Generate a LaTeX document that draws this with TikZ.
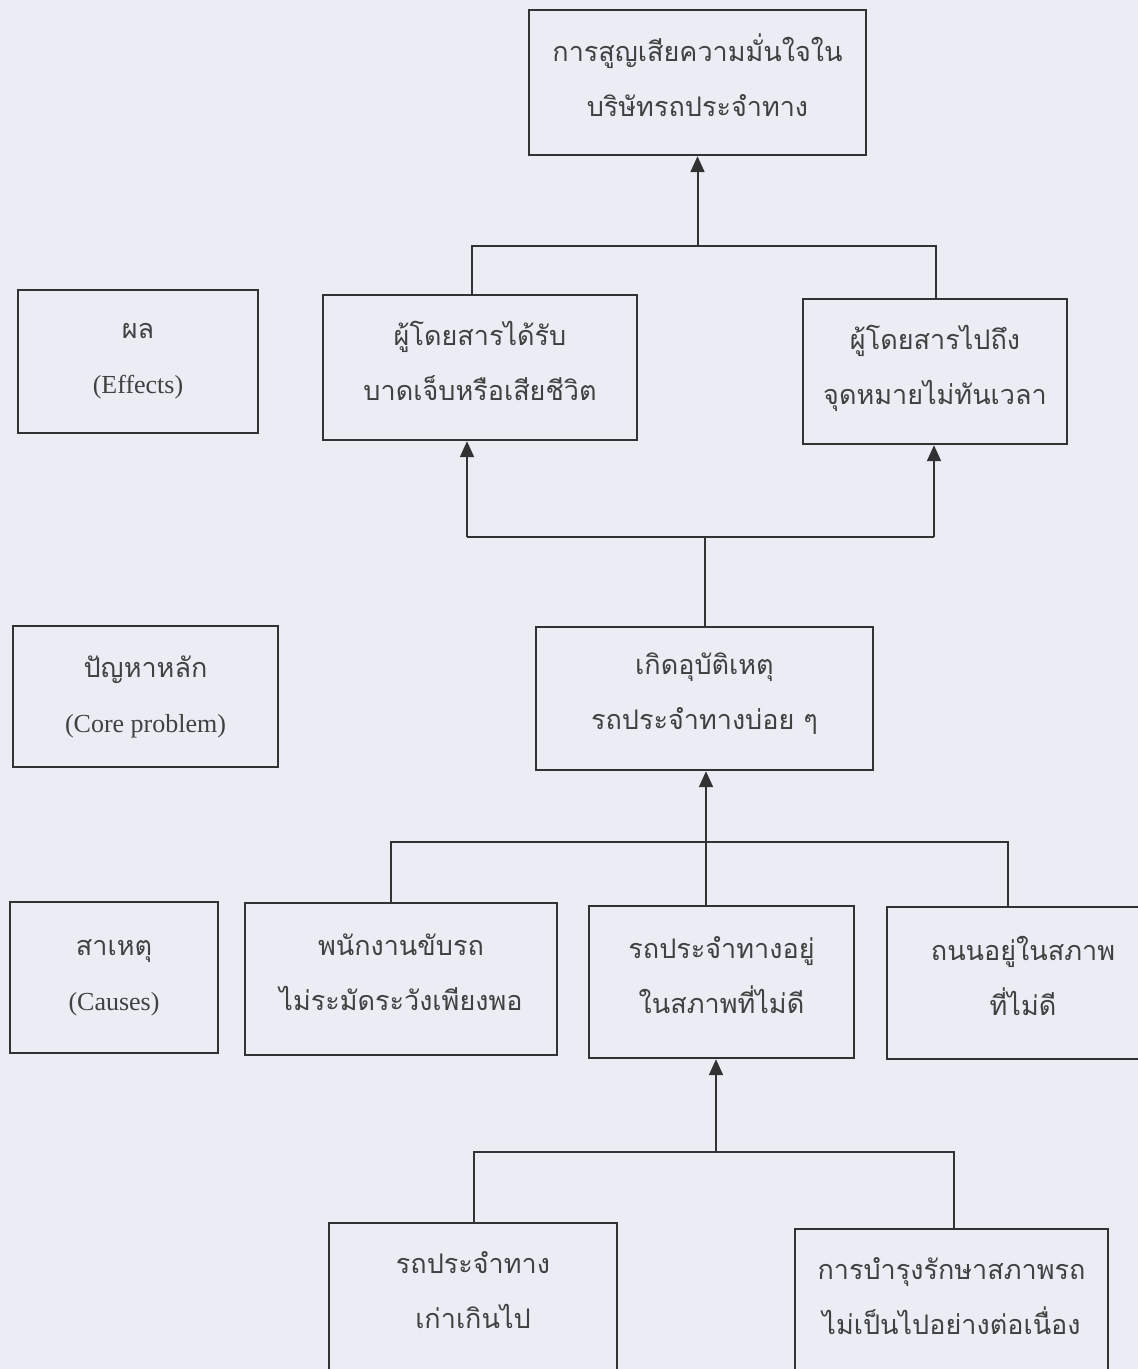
\documentclass[tikz,border=0pt]{standalone}
\usepackage{fontspec}
\setmainfont{Liberation Serif}
\newfontfamily\thaifont[Script=Thai]{Loma}
\usetikzlibrary{arrows.meta}
\definecolor{scanbg}{RGB}{234,237,243}
\definecolor{inkline}{RGB}{50,50,50}
\definecolor{inktext}{RGB}{65,65,65}
\newcommand{\eng}[1]{{\rmfamily\fontsize{13}{27.5}\selectfont #1}}

\begin{document}
\begin{tikzpicture}[x=0.5pt,y=-0.5pt]
		\tikzstyle{every node}=[align=center, text=inktext, font=\thaifont\fontsize{13.5}{27.5}\selectfont]
		\tikzstyle{box}=[draw=inkline, line width=1.2pt, fill=scanbg, inner sep=0pt]
		\tikzstyle{tbox}=[box, text depth=7pt]
		\tikzstyle{link}=[draw=inkline, line width=1pt]
		\tikzstyle{up}=[link, -{Triangle[width=7pt,length=8pt]}]
		\fill[scanbg] (0,0) rectangle (1138,1369);
		\useasboundingbox (0,0) rectangle (1138,1369);
		% row labels
		\node[box, minimum width=120pt, minimum height=71.5pt] (lblEff) at (138,361.5) {ผล\\\eng{(Effects)}};
		\node[box, minimum width=132.5pt, minimum height=70.5pt] (lblCore) at (145.5,696.5) {ปัญหาหลัก\\\eng{(Core problem)}};
		\node[box, minimum width=104pt, minimum height=75.5pt] (lblCause) at (114,977.5) {สาเหตุ\\\eng{(Causes)}};
		% effects
		\node[tbox, minimum width=168.5pt, minimum height=72.5pt] (loss) at (697.5,82.5) {การสูญเสียความมั่นใจใน\\บริษัทรถประจำทาง};
		\node[tbox, minimum width=157pt, minimum height=72.5pt] (injury) at (480,367.5) {ผู้โดยสารได้รับ\\บาดเจ็บหรือเสียชีวิต};
		\node[tbox, minimum width=132pt, minimum height=72.5pt] (late) at (935,371.5) {ผู้โดยสารไปถึง\\จุดหมายไม่ทันเวลา};
		% core problem
		\node[tbox, minimum width=168.5pt, minimum height=71.5pt] (accident) at (704.5,698.5) {เกิดอุบัติเหตุ\\รถประจำทางบ่อย ๆ};
		% causes
		\node[tbox, minimum width=156pt, minimum height=76pt] (driver) at (401,979) {พนักงานขับรถ\\ไม่ระมัดระวังเพียงพอ};
		\node[tbox, minimum width=132.5pt, minimum height=76pt] (busstate) at (721.5,982) {รถประจำทางอยู่\\ในสภาพที่ไม่ดี};
		\node[tbox, minimum width=136pt, minimum height=76pt] (road) at (1023,983) {ถนนอยู่ในสภาพ\\ที่ไม่ดี};
		\node[tbox, minimum width=144pt, minimum height=74pt] (oldbus) at (473,1297) {รถประจำทาง\\เก่าเกินไป};
		\node[tbox, minimum width=156.5pt, minimum height=74pt] (upkeep) at (951.5,1303) {การบำรุงรักษาสภาพรถ\\ไม่เป็นไปอย่างต่อเนื่อง};
		% effects to loss
		\coordinate (effL) at (472,246);
		\coordinate (effR) at (936,246);
		\draw[link] (effL |- injury.north) -- (effL) -- (effR) -- (effR |- late.north);
		\draw[up] (loss.south |- effL) -- (loss.south);
		% core problem to effects
		\coordinate (coreL) at (467,537);
		\coordinate (coreR) at (934,537);
		\draw[link] (accident.north) -- (accident.north |- coreL);
		\draw[link] (coreL) -- (coreR);
		\draw[up] (coreL) -- (coreL |- injury.south);
		\draw[up] (coreR) -- (coreR |- late.south);
		% causes to core problem
		\coordinate (causeL) at (391,842);
		\coordinate (causeM) at (706,842);
		\coordinate (causeR) at (1008,842);
		\draw[link] (causeL |- driver.north) -- (causeL) -- (causeR) -- (causeR |- road.north);
		\draw[link] (causeM |- busstate.north) -- (causeM);
		\draw[up] (causeM) -- (causeM |- accident.south);
		% sub causes
		\coordinate (subL) at (474,1152);
		\coordinate (subM) at (716,1152);
		\coordinate (subR) at (954,1152);
		\draw[link] (subL |- oldbus.north) -- (subL) -- (subR) -- (subR |- upkeep.north);
		\draw[up] (subM) -- (subM |- busstate.south);
\end{tikzpicture}
\end{document}
